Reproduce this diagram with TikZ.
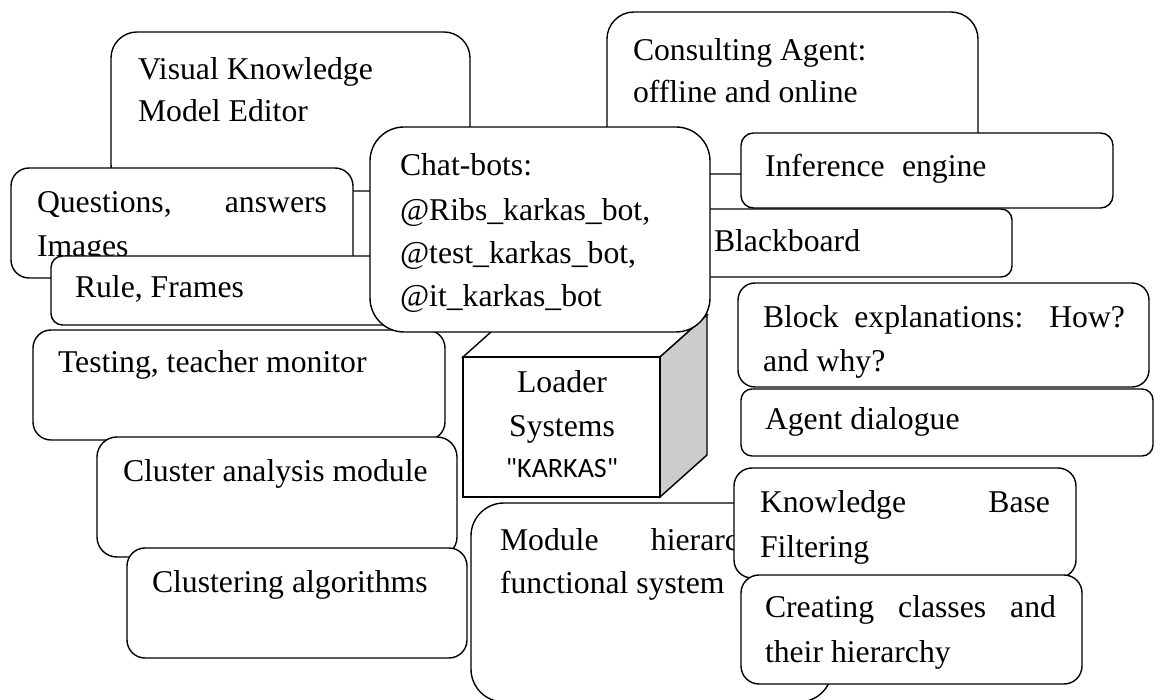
\documentclass[tikz,border=0pt]{standalone}
\usepackage{fontspec}
\setmainfont{Liberation Serif}
\newfontfamily\calibfont{Carlito}
\definecolor{sidegray}{RGB}{204,204,204}
\begin{document}
\begin{tikzpicture}[x=1pt,y=-1pt,
  rbox/.style={draw=black, fill=white, line width=1.4pt, inner sep=0pt, outer sep=0pt, anchor=north west},
  txt/.style={anchor=base west, inner sep=0pt, outer sep=0pt, font=\fontsize{31.7}{43.5}\selectfont},
  ctxt/.style={anchor=base, inner sep=0pt, outer sep=0pt, font=\fontsize{31.7}{43.5}\selectfont},
  cubeline/.style={draw=black, line width=1.4pt, line join=miter}]
\useasboundingbox[fill=white] (0,0) rectangle (1160,700);

% Visual Knowledge Model Editor
\node[rbox, minimum width=359pt, minimum height=159pt, rounded corners=26pt] (vkme) at (111,32) {};
\node[txt] (vkme1) at (138,80) {Visual Knowledge};
\node[txt] (vkme2) at (138,122) {Model Editor};

% Consulting Agent
\node[rbox, minimum width=371pt, minimum height=162pt, rounded corners=27pt] (cons) at (607,12) {};
\node[txt] (cons1) at (633,61) {Consulting Agent:};
\node[txt] (cons2) at (633,103) {offline and online};

% Questions
\node[rbox, minimum width=342pt, minimum height=110pt, rounded corners=18pt] (ques) at (11,168) {};
\node[txt] (ques1) at (37,213) {\makebox[290pt][s]{Questions, answers}};
\node[txt] (ques2) at (37,257) {Images};

% Rule, Frames
\node[rbox, minimum width=380pt, minimum height=69pt, rounded corners=11.5pt] (rule) at (51,256) {};
\node[txt] (rule1) at (75,298) {Rule, Frames};

% Testing
\node[rbox, minimum width=412pt, minimum height=110pt, rounded corners=18pt] (test) at (33,330) {};
\node[txt] (test1) at (58,373) {Testing, teacher monitor};

% Blackboard
\node[rbox, minimum width=362pt, minimum height=68pt, rounded corners=11pt] (black) at (650,209) {};
\node[txt] (black1) at (714,252) {Blackboard};

% Loader cube
\draw[cubeline, fill=white] (463,357) -- (510,315) -- (707,315) -- (660,357) -- cycle;
\draw[cubeline, fill=sidegray] (660,357) -- (707,315) -- (707,455) -- (660,497) -- cycle;
\node[rbox, minimum width=197pt, minimum height=140pt] (loader) at (463,357) {};
\node[ctxt] (load1) at (562,393) {Loader};
\node[ctxt] (load2) at (562,437) {Systems};
\node[anchor=base, inner sep=0pt, font=\calibfont\fontsize{28}{34}\selectfont] (load3) at (562,478) {"KARKAS"};

% Chat-bots
\node[rbox, minimum width=340pt, minimum height=205pt, rounded corners=34pt] (chat) at (370,127) {};
\node[txt] (chat1) at (400,176) {Chat-bots:};
\node[txt] (chat2) at (400,221) {@Ribs\_karkas\_bot,};
\node[txt] (chat3) at (400,264) {@test\_karkas\_bot,};
\node[txt] (chat4) at (400,307) {@it\_karkas\_bot};

% Inference engine
\node[rbox, minimum width=372pt, minimum height=75pt, rounded corners=12.5pt] (infer) at (741,133) {};
\node[txt] (infer1) at (765,177) {\makebox[137pt][l]{Inference}engine};

% Block explanations
\node[rbox, minimum width=411pt, minimum height=104pt, rounded corners=17pt] (block) at (738,283) {};
\node[txt] (block1) at (763,328) {\makebox[362pt][s]{Block explanations: How?}};
\node[txt] (block2) at (763,372) {and why?};

% Agent dialogue
\node[rbox, minimum width=412pt, minimum height=67pt, rounded corners=11pt] (agent) at (741,389) {};
\node[txt] (agent1) at (765,430) {Agent dialogue};

% Cluster analysis module
\node[rbox, minimum width=360pt, minimum height=120pt, rounded corners=20pt] (clus) at (97,437) {};
\node[txt] (clus1) at (123,482) {Cluster analysis module};

% Clustering algorithms
\node[rbox, minimum width=340pt, minimum height=110pt, rounded corners=18pt] (clusalg) at (127,548) {};
\node[txt] (clusalg1) at (152,592) {Clustering algorithms};

% Module hierarchy
\node[rbox, minimum width=361pt, minimum height=199pt, rounded corners=33pt] (module) at (471,503) {};
\node[txt] (module1) at (500,550) {\makebox[151pt][l]{Module}hierarc};
\node[txt] (module2) at (500,593) {functional system};

% Knowledge Base Filtering
\node[rbox, minimum width=342pt, minimum height=110pt, rounded corners=18pt] (kb) at (734,468) {};
\node[txt] (kb1) at (760,513) {\makebox[290pt][s]{Knowledge Base}};
\node[txt] (kb2) at (760,557) {Filtering};

% Creating classes
\node[rbox, minimum width=341pt, minimum height=109pt, rounded corners=18pt] (create) at (741,575) {};
\node[txt] (create1) at (765,617) {\makebox[291pt][s]{Creating classes and}};
\node[txt] (create2) at (765,662) {their hierarchy};
\end{tikzpicture}
\end{document}
